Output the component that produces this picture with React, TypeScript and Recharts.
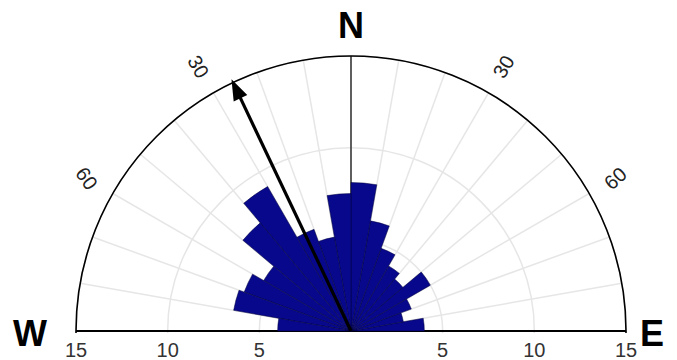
import React from 'react';
import {
  RadialBarChart,
  RadialBar,
  PolarGrid,
  PolarAngleAxis,
  PolarRadiusAxis,
} from 'recharts';

// Direction bins (bearing, degrees), ordered west → north → east
const bins = [
  '270-280', '280-290', '290-300', '300-310', '310-320', '320-330',
  '330-340', '340-350', '350-360', '0-10', '10-20', '20-30',
  '30-40', '40-50', '50-60', '60-70', '70-80', '80-90',
];

// Frequency in each bin
const counts = [
  4.0, 6.5, 6.2, 5.5, 7.7, 9.1,
  5.9, 5.2, 7.5, 8.1, 6.1, 4.8,
  4.1, 3.7, 5.0, 3.5, 2.9, 4.0,
];

// Radial scale
const radiusMax = 15;
const leftTickValues = [15, 10, 5];
const rightTickValues = [5, 10, 15];

// Angle annotations (bearing relative to north, negative = west)
const angleLabelBearings = [-60, -30, 30, 60];
const angleLabelTexts = ['60', '30', '30', '60'];
const angleLabelRotations = [55, 60, -60, -42];

// Mean direction arrow
const meanBearing = -25.4;
const meanLength = 15.2;

// Radial grid spacing (degrees)
const gridStep = 10;

const W = 677;
const H = 360;
const CX = 351;
const CY = 331;
const R_OUT = 275;

// The angle axis runs counter-clockwise from east, so the table goes east → west
const data = bins.map((bin, i) => ({ bin, count: counts[i] })).reverse();
const gridAngles = Array.from({ length: 180 / gridStep + 1 }, (_, i) => i * gridStep);

// Recharts places category bars on an angle axis one band behind the sweep start,
// so the sweep is advanced by one band to keep the first bin on the east horizon.
const band = 180 / bins.length;

const toXY = (value: number, bearing: number) => {
  const r = (value / radiusMax) * R_OUT;
  const a = (bearing * Math.PI) / 180;
  return { x: CX + r * Math.sin(a), y: CY - r * Math.cos(a) };
};

const FONT = '"Liberation Sans", Arial, sans-serif';

function Arrow() {
  const tip = toXY(meanLength, meanBearing);
  const a = (meanBearing * Math.PI) / 180;
  const ux = Math.sin(a);
  const uy = -Math.cos(a);
  const headLen = 21;
  const headHalf = 7.5;
  const bx = tip.x - ux * headLen;
  const by = tip.y - uy * headLen;
  const px = -uy;
  const py = ux;
  return (
    <g>
      <line x1={CX} y1={CY} x2={bx + ux * 2} y2={by + uy * 2} stroke="#000" strokeWidth={3.2} />
      <polygon
        points={`${tip.x},${tip.y} ${bx + px * headHalf},${by + py * headHalf} ${bx - px * headHalf},${by - py * headHalf}`}
        fill="#000"
      />
    </g>
  );
}

export default function App() {
  return (
    <div style={{ position: 'absolute', left: 0, top: 0, width: W, height: H, background: '#fff', overflow: 'hidden' }}>
      <div style={{ position: 'absolute', left: 0, top: 0, width: W, height: CY + 2, overflow: 'hidden' }}>
        <RadialBarChart
          layout="centric"
          width={W}
          height={H}
          data={data}
          cx={CX}
          cy={CY}
          innerRadius={0}
          outerRadius={R_OUT}
          startAngle={band}
          endAngle={180 + band}
          barCategoryGap={0}
          barGap={0}
          margin={{ top: 0, right: 0, bottom: 0, left: 0 }}
        >
          <PolarGrid gridType="circle" polarAngles={gridAngles} stroke="#e6e6e6" strokeWidth={1.5} />
          <PolarGrid gridType="circle" polarAngles={[90]} polarRadius={[0]} stroke="#000" strokeWidth={1.2} />
          <PolarGrid gridType="circle" polarAngles={[0, 180]} polarRadius={[0]} stroke="#000" strokeWidth={2.2} />
          <PolarAngleAxis
            type="category"
            dataKey="bin"
            tick={false}
            tickLine={false}
            axisLine={{ stroke: '#000', strokeWidth: 1.6 }}
            axisLineType="circle"
          />
          <PolarRadiusAxis
            type="number"
            domain={[0, radiusMax]}
            tickCount={4}
            tick={false}
            tickLine={false}
            axisLine={false}
          />
          <RadialBar
            dataKey="count"
            fill="#08088c"
            stroke="#00003a"
            strokeWidth={0.5}
            isAnimationActive={false}
          />
        </RadialBarChart>
      </div>
      <svg
        width={W}
        height={H}
        style={{ position: 'absolute', left: 0, top: 0, pointerEvents: 'none' }}
        fontFamily={FONT}
      >
        <Arrow />
        {angleLabelBearings.map((b, i) => {
          const p = toXY(16.65, b);
          return (
            <text
              key={`al-${i}`}
              x={p.x}
              y={p.y}
              fontSize={20}
              fill="#222"
              textAnchor="middle"
              dominantBaseline="central"
              transform={`rotate(${angleLabelRotations[i]} ${p.x} ${p.y})`}
            >
              {angleLabelTexts[i]}
            </text>
          );
        })}
        {leftTickValues.map((v, i) => (
          <text key={`lt-${i}`} x={toXY(v, -90).x} y={357} fontSize={20} fill="#333" textAnchor="middle">
            {v}
          </text>
        ))}
        {rightTickValues.map((v, i) => (
          <text key={`rt-${i}`} x={toXY(v, 90).x} y={357} fontSize={20} fill="#333" textAnchor="middle">
            {v}
          </text>
        ))}
        <text x={CX} y={38} fontSize={36} fontWeight="bold" fill="#000" textAnchor="middle">N</text>
        <text x={30} y={346} fontSize={36} fontWeight="bold" fill="#000" textAnchor="middle">W</text>
        <text x={652} y={346} fontSize={36} fontWeight="bold" fill="#000" textAnchor="middle">E</text>
      </svg>
    </div>
  );
}
